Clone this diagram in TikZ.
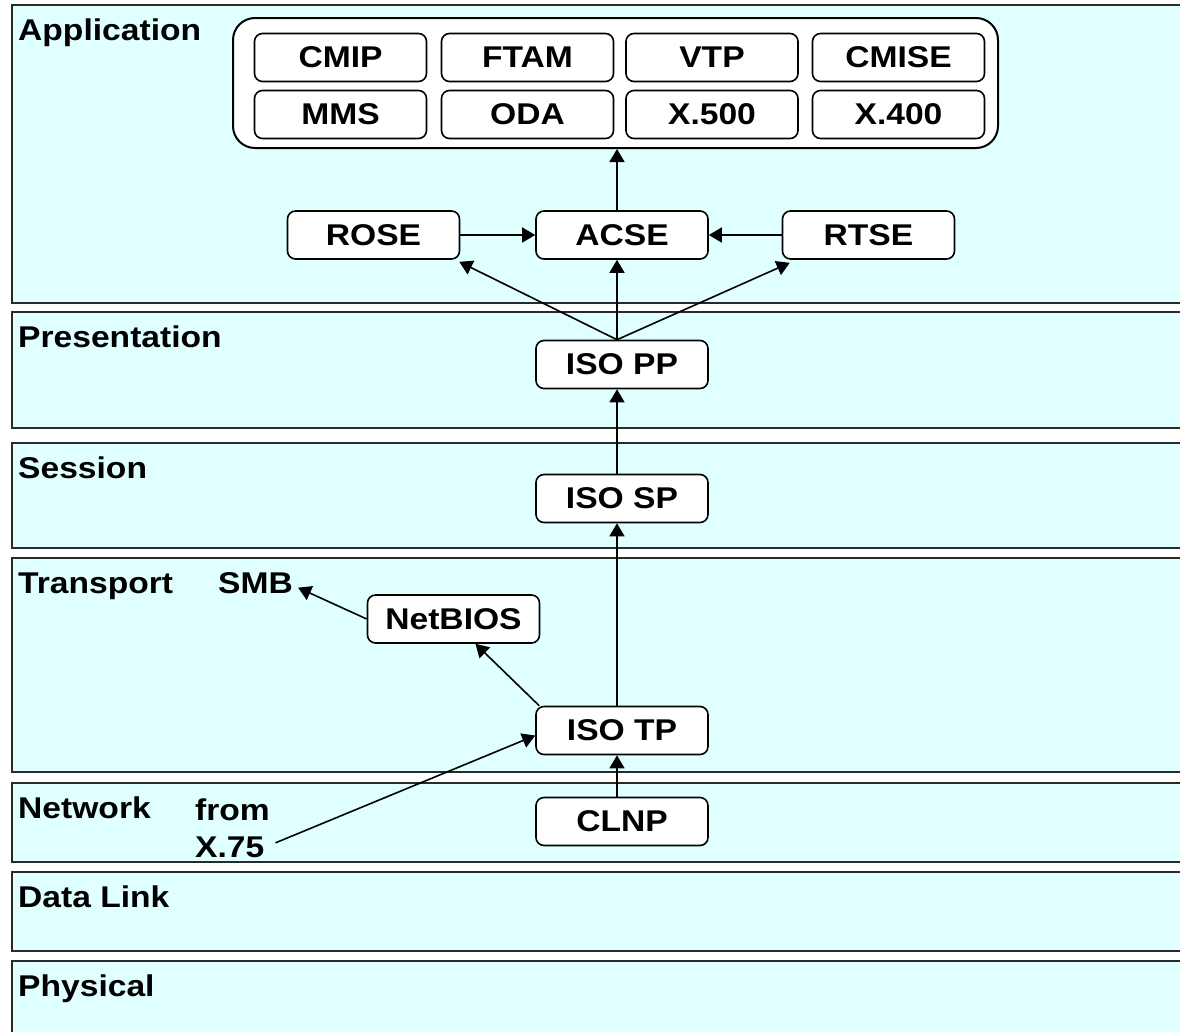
\documentclass[tikz,border=0pt]{standalone}
\usepackage{fontspec}
\newfontfamily\osifont[FakeStretch=1.12]{Liberation Sans}
\usetikzlibrary{arrows.meta}
\definecolor{layerfill}{HTML}{E0FFFF}
\definecolor{layerline}{HTML}{2A2A2A}

\begin{document}
\begin{tikzpicture}[x=1pt,y=-1pt,
  every node/.style={font=\osifont\bfseries\fontsize{30}{36}\selectfont, inner sep=0pt},
  layer/.style={draw=layerline, line width=2pt, fill=layerfill},
  layerlabel/.style={anchor=base west},
  plain/.style={anchor=base west},
  proto/.style={draw=black, line width=1.6pt, fill=white, rounded corners=8pt,
                minimum width=172pt, minimum height=48pt},
  group/.style={draw=black, line width=2pt, fill=white, rounded corners=22pt,
                minimum width=765pt, minimum height=130pt},
  link/.style={draw=black, line width=1.6pt, -{Triangle[length=13pt,width=15pt]}},
]
\useasboundingbox (0,0) rectangle (1180,1031);
\clip (0,0) rectangle (1180,1031);
\fill[white] (0,0) rectangle (1180,1031);

% OSI layers, open to the right
\draw[layer] (12,5)   rectangle (1195,303);
\draw[layer] (12,312) rectangle (1195,428);
\draw[layer] (12,443) rectangle (1195,548);
\draw[layer] (12,558) rectangle (1195,772);
\draw[layer] (12,783) rectangle (1195,862);
\draw[layer] (12,872) rectangle (1195,951);
\draw[layer] (12,961) rectangle (1195,1045);

\node[layerlabel] (lapp)  at (18,40)  {Application};
\node[layerlabel] (lpres) at (18,347) {Presentation};
\node[layerlabel] (lsess) at (18,478) {Session};
\node[layerlabel] (ltran) at (18,593) {Transport};
\node[layerlabel] (lnet)  at (18,818) {Network};
\node[layerlabel] (ldata) at (18,907) {Data Link};
\node[layerlabel] (lphys) at (18,996) {Physical};

% application services
\node[group] (apps) at (615.5,83) {};
\node[proto] (CMIP)  at (340.5,57.5)  {CMIP};
\node[proto] (FTAM)  at (527.5,57.5)  {FTAM};
\node[proto] (VTP)   at (712,57.5)    {VTP};
\node[proto] (CMISE) at (898.5,57.5)  {CMISE};
\node[proto] (MMS)   at (340.5,114.5) {MMS};
\node[proto] (ODA)   at (527.5,114.5) {ODA};
\node[proto] (X500)  at (712,114.5)   {X.500};
\node[proto] (X400)  at (898.5,114.5) {X.400};

\node[proto] (ROSE) at (373.5,235) {ROSE};
\node[proto] (ACSE) at (622,235)   {ACSE};
\node[proto] (RTSE) at (868.5,235) {RTSE};

\node[proto] (ISOPP) at (622,364.5) {ISO PP};
\node[proto] (ISOSP) at (622,498.5) {ISO SP};
\node[proto] (NetBIOS) at (453.5,619) {NetBIOS};
\node[proto] (ISOTP) at (622,730.5) {ISO TP};
\node[proto] (CLNP)  at (622,821.5) {CLNP};

\node[plain] (SMB)  at (218,593) {SMB};
\node[plain] (from) at (195,820) {from};
\node[plain] (x75)  at (195,857) {X.75};

% connections
\draw[link] ([xshift=-5pt]ACSE.north) -- ([xshift=-5pt]ACSE.north |- apps.south);
\draw[link] (ROSE.east) -- (ACSE.west);
\draw[link] (RTSE.west) -- (ACSE.east);
\draw[link] ([xshift=-5pt]ISOPP.north) -- ([xshift=-5pt]ACSE.south);
\draw[link] ([xshift=-5pt]ISOPP.north) -- ([xshift=-1pt,yshift=-2pt]ROSE.south east);
\draw[link] ([xshift=-5pt]ISOPP.north) -- ([xshift=8pt,yshift=-3pt]RTSE.south west);
\draw[link] ([xshift=-5pt]ISOSP.north) -- ([xshift=-5pt]ISOPP.south);
\draw[link] ([xshift=-5pt]ISOTP.north) -- ([xshift=-5pt]ISOSP.south);
\draw[link] ([xshift=-5pt]CLNP.north) -- ([xshift=-5pt]ISOTP.south);
\draw[link] ([xshift=4pt]ISOTP.north west) -- ([xshift=22pt]NetBIOS.south);
\draw[link] (NetBIOS.west) -- ([xshift=5pt,yshift=-5pt]SMB.east);
\draw[link] ([xshift=11pt,yshift=4pt]x75.east) -- ([yshift=-5pt]ISOTP.west);
\end{tikzpicture}
\end{document}
